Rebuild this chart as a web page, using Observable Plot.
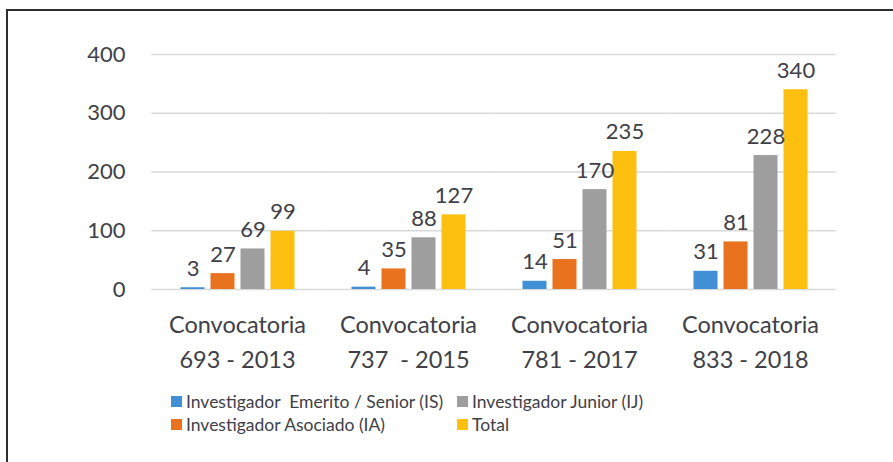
<!DOCTYPE html>
<html>
<head>
<meta charset="utf-8">
<script src="https://cdn.jsdelivr.net/npm/d3@7"></script>
<script src="https://cdn.jsdelivr.net/npm/@observablehq/plot@0.6"></script>
<style>
  html, body { margin: 0; padding: 0; background: #fff; }
  #wrap { position: relative; width: 893px; height: 462px; overflow: hidden; font-family: Lato, sans-serif; color: #404048; }
  #frameTop { position: absolute; left: 6px; top: 9px; width: 900px; height: 2px; background: #2e2e2e; }
  #frameLeft { position: absolute; left: 6px; top: 9px; width: 2px; height: 470px; background: #2e2e2e; }
  #chart { position: absolute; left: 0; top: 0; }
  #legend { position: absolute; left: 171px; top: 391px; display: grid; grid-template-columns: 286px auto; row-gap: 2px; font-size: 17.5px; line-height: 21px; }
  .item { display: flex; align-items: center; white-space: pre; }
  .sw { width: 11px; height: 11px; margin-right: 4px; display: inline-block; }
</style>
</head>
<body>
<div id="wrap">
  <div id="chart"></div>
  <div id="legend"></div>
  <div id="frameTop"></div>
  <div id="frameLeft"></div>
</div>
<script>
const groups = ["Convocatoria\n693 - 2013", "Convocatoria\n737  - 2015", "Convocatoria\n781 - 2017", "Convocatoria\n833 - 2018"];
const series = ["Investigador  Emerito / Senior (IS)", "Investigador Asociado (IA)", "Investigador Junior (IJ)", "Total"];
const valuesIS = [3, 4, 14, 31];
const valuesIA = [27, 35, 51, 81];
const valuesIJ = [69, 88, 170, 228];
const valuesTotal = [99, 127, 235, 340];
const colors = ["#4190d5", "#e9721f", "#9e9e9e", "#fdbf10"];
const yTicks = [0, 100, 200, 300, 400];

const allValues = [valuesIS, valuesIA, valuesIJ, valuesTotal];
const data = [];
groups.forEach((g, gi) => {
  series.forEach((s, si) => {
    data.push({group: g, series: s, value: allValues[si][gi]});
  });
});

const chart = Plot.plot({
  width: 893,
  height: 380,
  marginLeft: 151.5,
  marginRight: 57.5,
  marginTop: 54,
  marginBottom: 91,
  style: {fontFamily: "Lato, sans-serif", color: "#404048", background: "transparent"},
  fx: {domain: groups, paddingInner: 0.24, paddingOuter: 0.12, label: null, axis: null},
  x: {domain: series, padding: 0.2, axis: null},
  y: {domain: [0, 400], axis: null},
  color: {domain: series, range: colors},
  marks: [
    Plot.ruleY(yTicks, {y: d => d, stroke: "#d9d9d9", strokeWidth: 1.5, insetLeft: -20.6, insetRight: -20.6}),
    Plot.axisY(yTicks, {tickSize: 0, tickPadding: 47, fontSize: 22, label: null, fill: "#404048"}),
    Plot.barY(data, {fx: "group", x: "series", y: "value", fill: "series"}),
    Plot.text(data, {fx: "group", x: "series", y: "value", text: d => String(d.value), lineAnchor: "bottom", dy: -12, fontSize: 22, fill: "#404048"}),
    Plot.axisFx({anchor: "bottom", tickSize: 0, tickPadding: 18, fontSize: 23.5, lineHeight: 1.5, label: null, fill: "#404048"})
  ]
});
document.getElementById("chart").appendChild(chart);

const legendOrder = [0, 2, 1, 3];
const legend = document.getElementById("legend");
legendOrder.forEach(i => {
  const div = document.createElement("div");
  div.className = "item";
  const sw = document.createElement("span");
  sw.className = "sw";
  sw.style.background = colors[i];
  div.appendChild(sw);
  div.appendChild(document.createTextNode(series[i]));
  legend.appendChild(div);
});
</script>
</body>
</html>
